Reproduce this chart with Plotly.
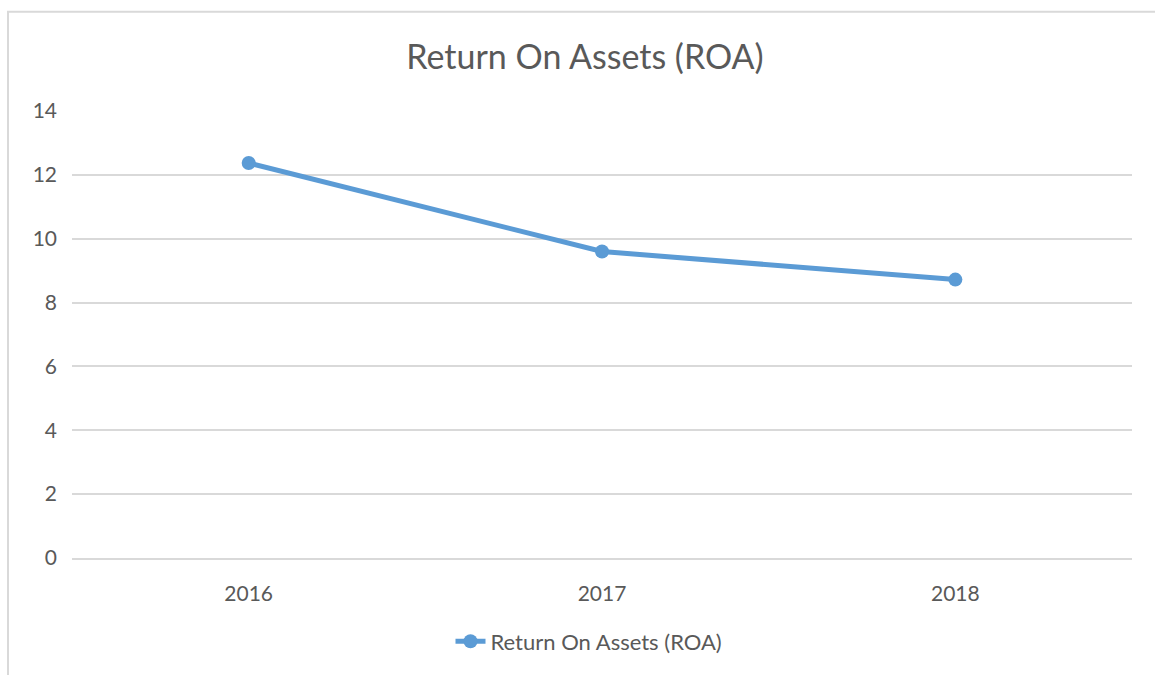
import plotly.graph_objects as go

years = ["2016", "2017", "2018"]
roa = [12.37, 9.6, 8.72]
series_name = "Return On Assets (ROA)"
y_ticks = [0, 2, 4, 6, 8, 10, 12, 14]

W, H = 1155, 675
L, R, T, B = 72, 23, 111, 111
pw, ph = W - L - R, H - T - B
bottom_px = 561  # pixel of y=0 line in the reference

def px_x(p):
    return (p - L) / pw

def px_y(p):
    return (bottom_px - p) / 450.0

font_family = "Lato, 'Open Sans', sans-serif"
text_color = "#595959"

fig = go.Figure()
fig.add_trace(go.Scatter(
    x=years, y=roa, name=series_name, mode="lines+markers",
    line=dict(color="#5B9BD5", width=5),
    marker=dict(color="#5B9BD5", size=14),
))

fig.update_layout(
    width=W, height=H,
    margin=dict(l=L, r=R, t=T, b=B),
    paper_bgcolor="white", plot_bgcolor="white",
    title=dict(text="Return On Assets (ROA)", x=px_x(585), xref="paper", xanchor="center",
               y=1 - 57 / H, yanchor="middle",
               font=dict(family=font_family, size=34, color=text_color)),
    showlegend=True,
    legend=dict(orientation="h", x=px_x(589), xanchor="center", y=px_y(645), yanchor="middle",
                xref="paper", yref="paper",
                font=dict(family=font_family, size=22, color=text_color),
                bgcolor="rgba(0,0,0,0)"),
    xaxis=dict(type="category", range=[-0.5, 2.5], showgrid=False, zeroline=False,
               showline=True, linecolor="#D9D9D9", linewidth=2, ticks="",
               tickfont=dict(family=font_family, size=21, color=text_color),
               ticklabelstandoff=16),
    yaxis=dict(range=[0, 14], tickvals=y_ticks, showgrid=True, gridcolor="#D9D9D9", gridwidth=2,
               zeroline=False, showline=False, ticks="",
               tickfont=dict(family=font_family, size=21, color=text_color),
               ticklabelstandoff=14),
    shapes=[dict(type="rect", xref="paper", yref="paper",
                 x0=px_x(8), x1=px_x(1175), y0=px_y(690), y1=px_y(11),
                 line=dict(color="#D9D9D9", width=2), fillcolor="rgba(0,0,0,0)", layer="below")],
)

fig.write_html("out.html", config={"displayModeBar": False},
               post_script="document.body.style.margin='0';document.body.style.overflow='hidden';")
